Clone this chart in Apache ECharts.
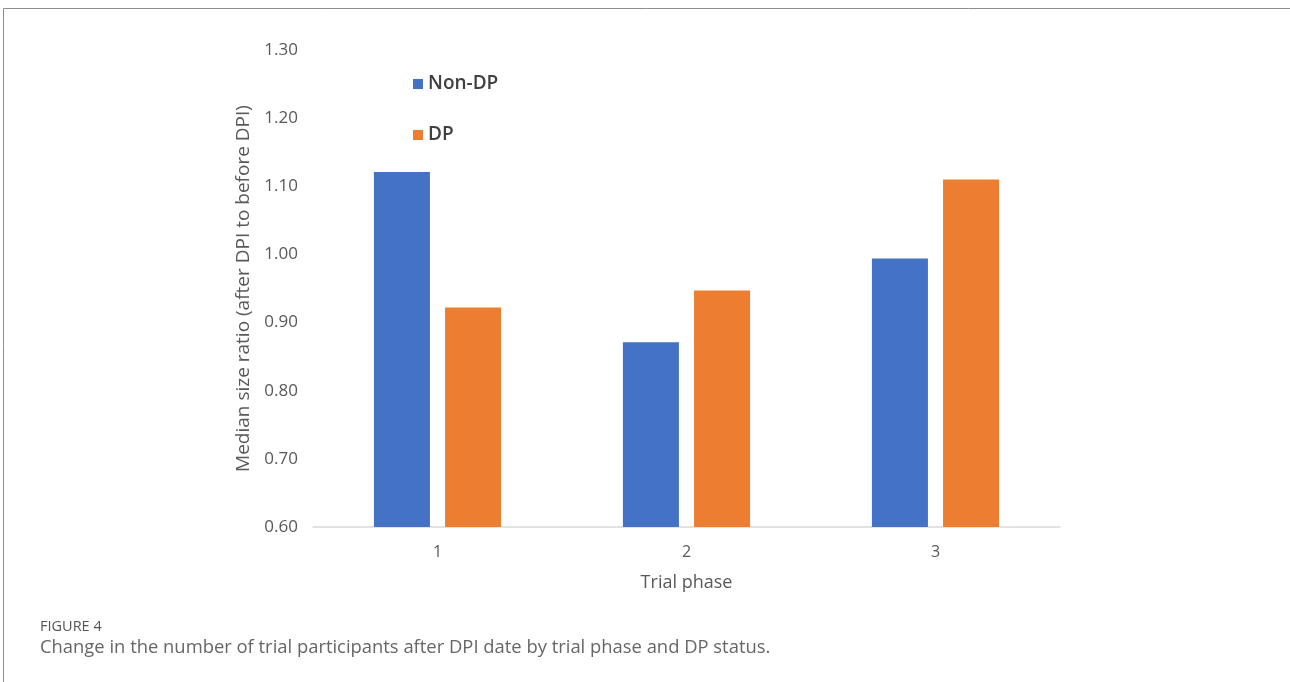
<!DOCTYPE html>
<html>
<head>
<meta charset="utf-8">
<script src="https://cdn.jsdelivr.net/npm/echarts@6/dist/echarts.min.js"></script>
<style>
  html, body { margin: 0; padding: 0; background: #fff; }
  #chart { width: 1290px; height: 682px; }
</style>
</head>
<body>
<div id="chart"></div>
<script>
// Trial phases on the x axis
const phases = ['1', '2', '3'];
// Median size ratio per phase
const nonDP = [1.121, 0.871, 0.994];
const dp = [0.922, 0.947, 1.110];
// Y axis range
const yMin = 0.6, yMax = 1.3, yStep = 0.1;

const chart = echarts.init(document.getElementById('chart'));
const font = '"Open Sans", "Noto Sans", sans-serif';

chart.setOption({
  animation: false,
  backgroundColor: '#ffffff',
  textStyle: { fontFamily: font },
  grid: { left: 313, right: 230, top: 50, bottom: 155 },
  legend: {
    orient: 'vertical',
    left: 408,
    top: 68,
    itemWidth: 10,
    itemHeight: 10,
    itemGap: 29,
    icon: 'rect',
    textStyle: { fontFamily: font, fontSize: 19, fontWeight: 600, color: '#404040', lineHeight: 22 },
    data: ['Non-DP', 'DP']
  },
  xAxis: {
    type: 'category',
    data: phases,
    name: 'Trial phase',
    nameLocation: 'middle',
    nameGap: 47,
    nameTextStyle: { fontSize: 18, color: '#595959', fontFamily: font },
    axisLine: { lineStyle: { color: '#d9d9d9', width: 1.5 } },
    axisTick: { show: false },
    axisLabel: { fontSize: 16, color: '#595959', margin: 17 }
  },
  yAxis: {
    type: 'value',
    min: yMin,
    max: yMax,
    interval: yStep,
    name: 'Median size ratio (after DPI to before DPI)',
    nameLocation: 'middle',
    nameGap: 60,
    nameTextStyle: { fontSize: 19, color: '#595959', fontFamily: font },
    axisLine: { show: false },
    axisTick: { show: false },
    splitLine: { show: false },
    axisLabel: {
      fontSize: 17,
      color: '#595959',
      margin: 15,
      formatter: v => v.toFixed(2)
    }
  },
  series: [
    {
      name: 'Non-DP',
      type: 'bar',
      data: nonDP,
      barWidth: '22.5%',
      barGap: '27%',
      itemStyle: { color: '#4472c4' }
    },
    {
      name: 'DP',
      type: 'bar',
      data: dp,
      barWidth: '22.5%',
      barGap: '27%',
      itemStyle: { color: '#ed7d31' }
    }
  ],
  graphic: [
    {
      type: 'polyline',
      shape: { points: [[3.5, 682], [3.5, 8.5], [1290, 8.5]] },
      style: { stroke: '#8c8c8c', lineWidth: 1, fill: null }
    },
    {
      type: 'text',
      left: 40,
      top: 619,
      style: { text: 'FIGURE 4', fontFamily: font, fontSize: 14.5, fill: '#555555' }
    },
    {
      type: 'text',
      left: 40,
      top: 639,
      style: {
        text: 'Change in the number of trial participants after DPI date by trial phase and DP status.',
        fontFamily: font,
        fontSize: 18.4,
        fill: '#666666'
      }
    }
  ]
});
</script>
</body>
</html>
